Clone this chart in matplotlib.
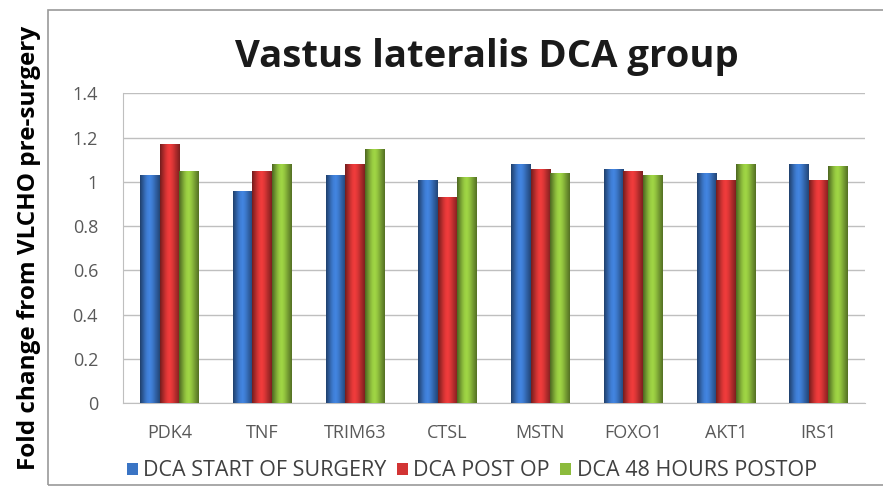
import numpy as np
import matplotlib
matplotlib.use('Agg')
import matplotlib.pyplot as plt
from matplotlib.colors import LinearSegmentedColormap
from matplotlib.patches import Rectangle

# data
genes = ['PDK4', 'TNF', 'TRIM63', 'CTSL', 'MSTN', 'FOXO1', 'AKT1', 'IRS1']
start_of_surgery = [1.03, 0.96, 1.03, 1.01, 1.08, 1.06, 1.04, 1.08]
post_op = [1.17, 1.05, 1.08, 0.93, 1.06, 1.05, 1.01, 1.01]
hours48_postop = [1.05, 1.08, 1.15, 1.02, 1.04, 1.03, 1.08, 1.07]
series_names = ['DCA START OF SURGERY', 'DCA POST OP', 'DCA 48 HOURS POSTOP']
colors = ['#3a74c4', '#d23434', '#8cbb3c']

plt.rcParams['font.family'] = ['Open Sans', 'DejaVu Sans']

fig = plt.figure(figsize=(8.83, 4.93), dpi=100)

# outer chart frame
fig.patches.append(Rectangle((48/883, 8/493), 1.0, 1 - 18/493, transform=fig.transFigure,
                             fill=False, edgecolor='#9a9a9a', lw=1.2))

ax = fig.add_axes([0.1393, 0.182, 0.8403, 0.6287])

x = np.arange(len(genes))
w = 0.21
all_series = [start_of_surgery, post_op, hours48_postop]

# horizontal shading to get the cylinder look
shade = np.array([0.55, 0.75, 0.95, 1.1, 1.15, 1.05, 0.9, 0.75, 0.6])
for i, vals in enumerate(all_series):
    bars = ax.bar(x + (i - 1) * w, vals, w, color=colors[i], label=series_names[i], zorder=3)
    base = np.array(matplotlib.colors.to_rgb(colors[i]))
    cols = [np.clip(base * s, 0, 1) for s in shade]
    cmap = LinearSegmentedColormap.from_list('c%d' % i, cols)
    for b in bars:
        x0, y0 = b.get_x(), b.get_y()
        im = ax.imshow(np.linspace(0, 1, 64).reshape(1, -1), cmap=cmap, aspect='auto',
                       extent=[x0, x0 + b.get_width(), y0, y0 + b.get_height()], zorder=4)
        im.set_clip_path(b)

ax.set_xlim(-0.5, len(genes) - 0.5)
ax.set_ylim(0, 1.4)
ax.set_yticks(np.arange(0, 1.41, 0.2))
ax.set_yticklabels(['0', '0.2', '0.4', '0.6', '0.8', '1', '1.2', '1.4'])
ax.set_xticks(x)
ax.set_xticklabels(genes)
ax.tick_params(axis='both', colors='#595959', labelsize=13, length=0)
ax.tick_params(axis='y', pad=18)
ax.tick_params(axis='x', pad=15)
ax.grid(axis='y', color='#bfbfbf', lw=1, zorder=0)
for s in ['top', 'right']:
    ax.spines[s].set_visible(False)
ax.spines['left'].set_color('#bfbfbf')
ax.spines['bottom'].set_color('#bfbfbf')

fig.text(0.551, 0.885, 'Vastus lateralis DCA group', ha='center', va='center',
         fontsize=27.5, fontweight='bold', color='#1a1a1a')
fig.text(0.033, 0.497, 'Fold change from VLCHO pre-surgery', rotation=90, ha='center', va='center',
         fontsize=17.5, fontweight='bold', color='black')

leg = ax.legend(loc='upper center', bbox_to_anchor=(0.47, -0.122), ncol=3, frameon=False,
                fontsize=15.5, handlelength=0.5, handleheight=0.5, handletextpad=0.25,
                columnspacing=0.5, labelcolor='#404040')

fig.savefig('out.png', dpi=100)
